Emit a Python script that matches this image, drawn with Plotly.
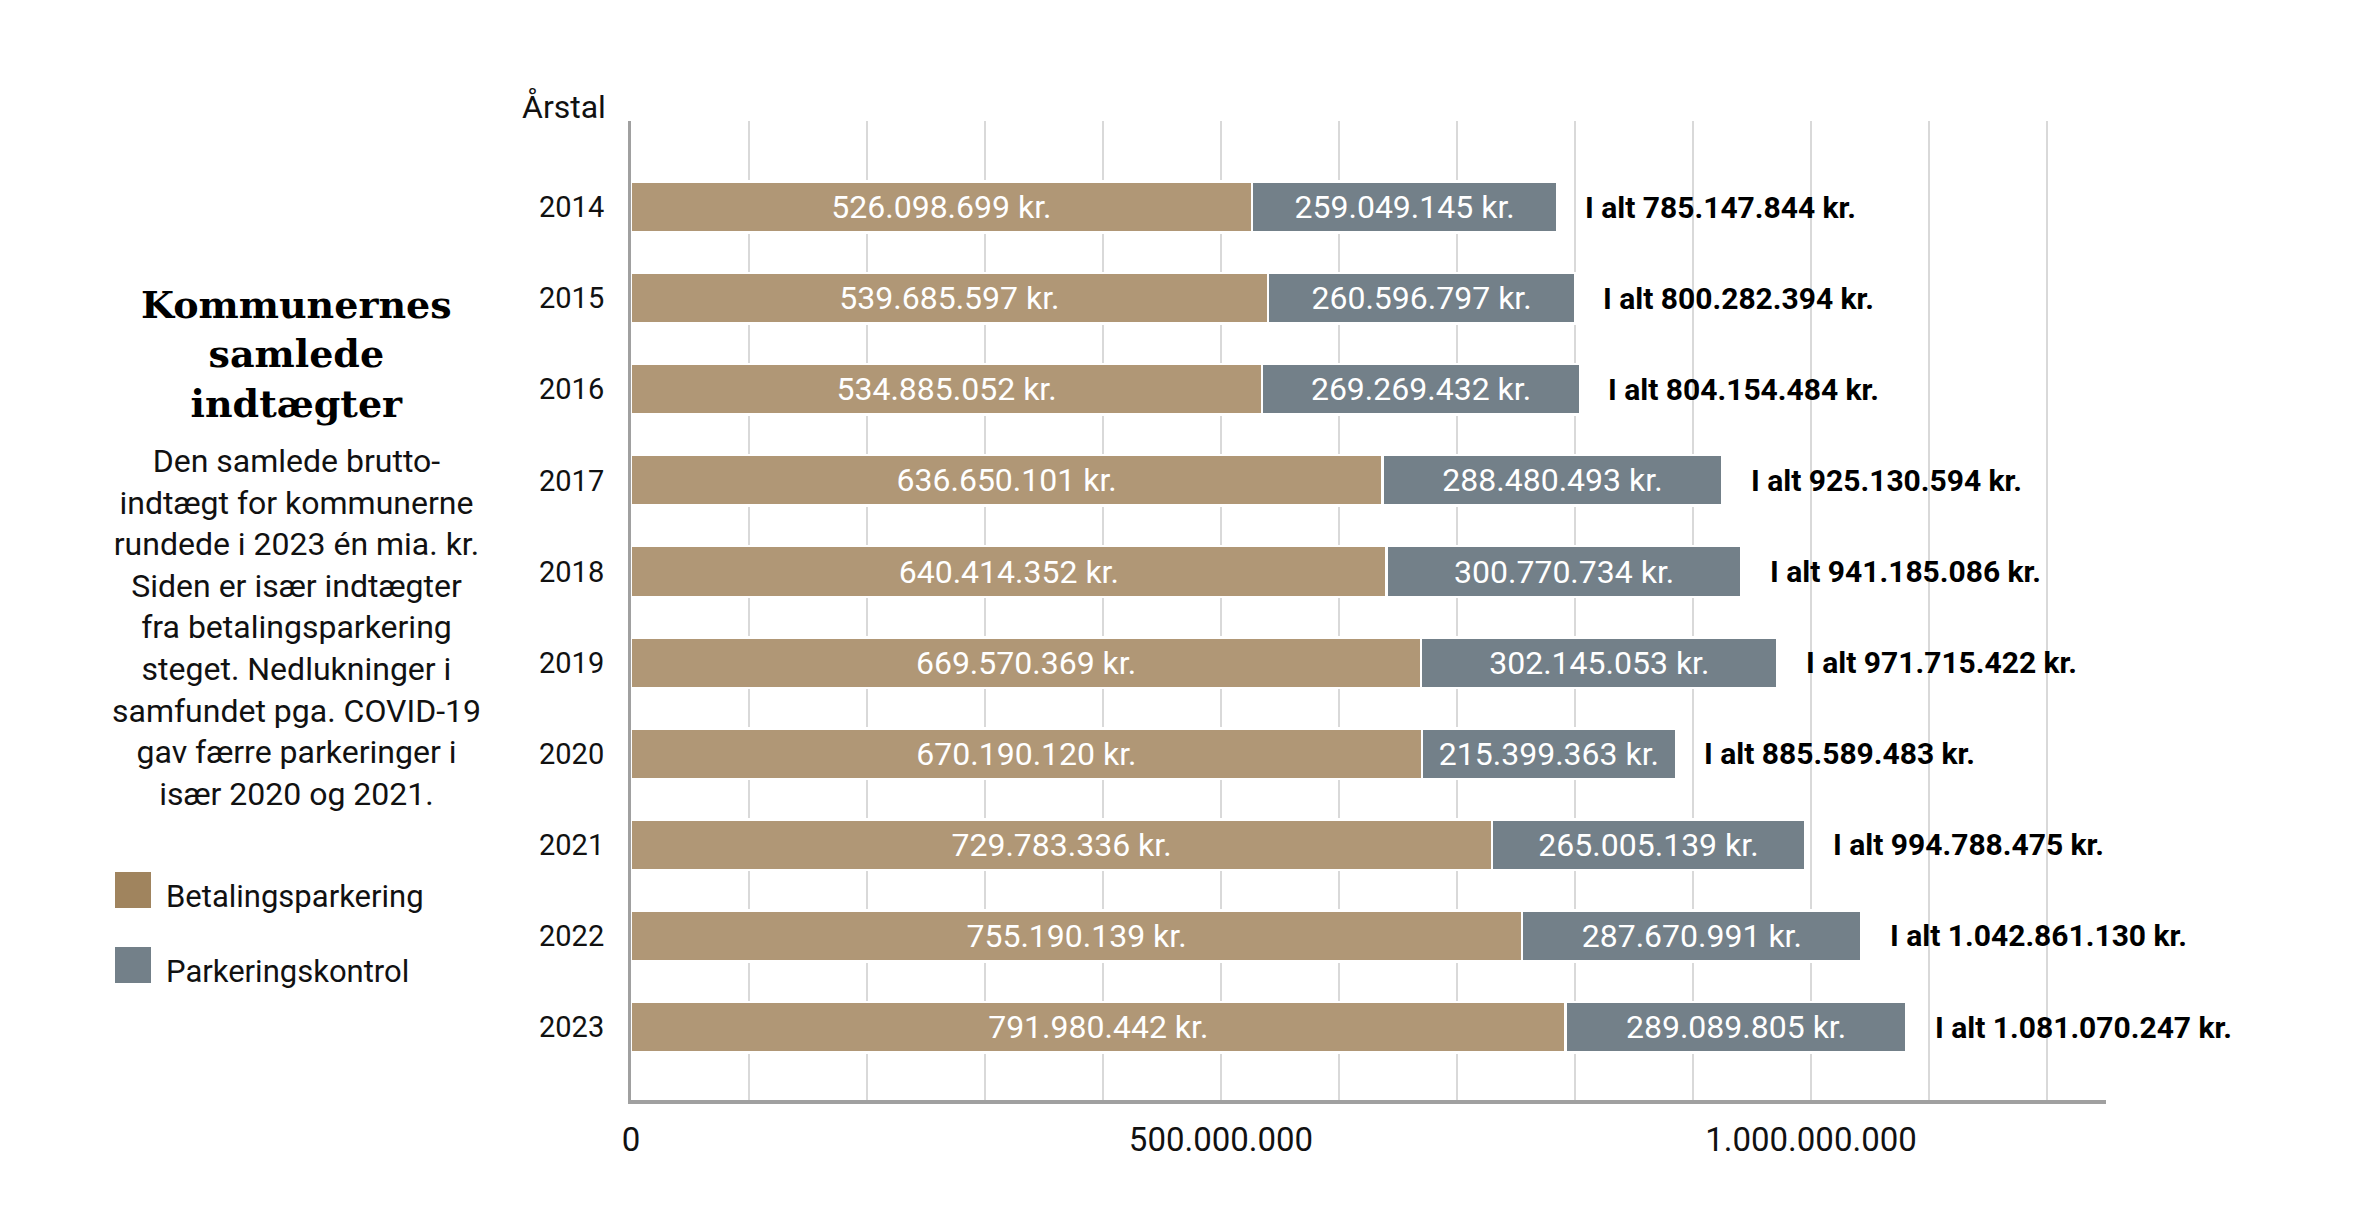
import plotly.graph_objects as go

# ---- data ----
years = [2014, 2015, 2016, 2017, 2018, 2019, 2020, 2021, 2022, 2023]
betalingsparkering = [526098699, 539685597, 534885052, 636650101, 640414352,
                      669570369, 670190120, 729783336, 755190139, 791980442]
parkeringskontrol = [259049145, 260596797, 269269432, 288480493, 300770734,
                     302145053, 215399363, 265005139, 287670991, 289089805]
series_names = ["Betalingsparkering", "Parkeringskontrol"]
x_tickvals = [0, 1e8, 2e8, 3e8, 4e8, 5e8, 6e8, 7e8, 8e8, 9e8, 1e9, 1.1e9, 1.2e9]
x_ticktext = ["0", "", "", "", "", "500.000.000", "", "", "", "", "1.000.000.000", "", ""]
title_lines = ["Kommunernes", "samlede", "indtægter"]
body_lines = ["Den samlede brutto-", "indtægt for kommunerne", "rundede i 2023 én mia. kr.",
              "Siden er især indtægter", "fra betalingsparkering", "steget. Nedlukninger i",
              "samfundet pga. COVID-19", "gav færre parkeringer i", "især 2020 og 2021."]
y_title = "Årstal"

totals = [a + b for a, b in zip(betalingsparkering, parkeringskontrol)]


def dk(v):
    return f"{v:,}".replace(",", ".")


# ---- layout constants ----
W, H = 2370, 1229
L, R, T, B = 631, 264, 121, 129
PW, PH = W - L - R, H - T - B
TAN, SLATE, TAN_LEG = "#B09776", "#738089", "#A0845E"
FONT = "Roboto"
TXT = "#111111"


def px(x):
    return (x - L) / PW


def py(y):
    return (H - B - y) / PH


fig = go.Figure()
for name, vals, col in [(series_names[0], betalingsparkering, TAN),
                        (series_names[1], parkeringskontrol, SLATE)]:
    fig.add_trace(go.Bar(
        y=years, x=vals, name=name, orientation="h",
        marker=dict(color=col, line=dict(color="white", width=2.5)),
        width=0.555,
        text=[dk(v) + " kr." for v in vals],
        textposition="inside", insidetextanchor="middle", textangle=0,
        constraintext="none",
        textfont=dict(family=FONT, size=32, color="white"),
        hoverinfo="skip",
    ))

annotations = []
for yv, tot in zip(years, totals):
    annotations.append(dict(
        x=tot, y=yv, xref="x", yref="y", xanchor="left", yanchor="middle",
        xshift=26, showarrow=False, text="<b>I alt " + dk(tot) + " kr.</b>",
        font=dict(family=FONT, size=30, color="black")))

annotations.append(dict(
    x=px(296), y=py(354), xref="paper", yref="paper", xanchor="center", yanchor="middle",
    showarrow=False, align="center", text="<b>" + "<br>".join(title_lines) + "</b>",
    font=dict(family="DejaVu Serif", size=38, color="black")))
annotations.append(dict(
    x=px(296), y=py(627), xref="paper", yref="paper", xanchor="center", yanchor="middle",
    showarrow=False, align="center", text="<br>".join(body_lines),
    font=dict(family=FONT, size=32, color=TXT)))
annotations.append(dict(
    x=px(608), y=py(107), xref="paper", yref="paper", xanchor="right", yanchor="middle",
    showarrow=False, text=y_title, font=dict(family=FONT, size=32, color=TXT)))

shapes = []
for i, (name, col) in enumerate(zip(series_names, [TAN_LEG, SLATE])):
    y0 = 872 + i * 75
    shapes.append(dict(type="rect", xref="paper", yref="paper",
                       x0=px(115), x1=px(151), y0=py(y0), y1=py(y0 + 36),
                       fillcolor=col, line=dict(width=0)))
    annotations.append(dict(
        x=px(164), y=py(y0 + 24), xref="paper", yref="paper", xanchor="left", yanchor="middle",
        showarrow=False, text=name, font=dict(family=FONT, size=31, color=TXT)))

fig.update_layout(
    width=W, height=H, autosize=False,
    margin=dict(l=L, r=R, t=T, b=B, pad=0),
    barmode="stack", showlegend=False,
    paper_bgcolor="white", plot_bgcolor="white",
    annotations=annotations, shapes=shapes,
    xaxis=dict(range=[0, 1.25e9], tickvals=x_tickvals, ticktext=x_ticktext,
               showgrid=True, gridcolor="#D9D9D9", gridwidth=2, zeroline=False,
               showline=True, linecolor="#A0A0A0", linewidth=4,
               ticks="", ticklabelstandoff=7,
               tickfont=dict(family=FONT, size=33, color=TXT)),
    yaxis=dict(range=[2023.8, 2013.056], tickvals=years, ticktext=[str(y) for y in years],
               showgrid=False, zeroline=False,
               showline=True, linecolor="#A0A0A0", linewidth=3,
               ticks="", ticklabelstandoff=18,
               tickfont=dict(family=FONT, size=29, color=TXT)),
)

fig.write_html("out.html", config={"displayModeBar": False},
               post_script="document.body.style.margin='0';document.body.style.overflow='hidden';")
